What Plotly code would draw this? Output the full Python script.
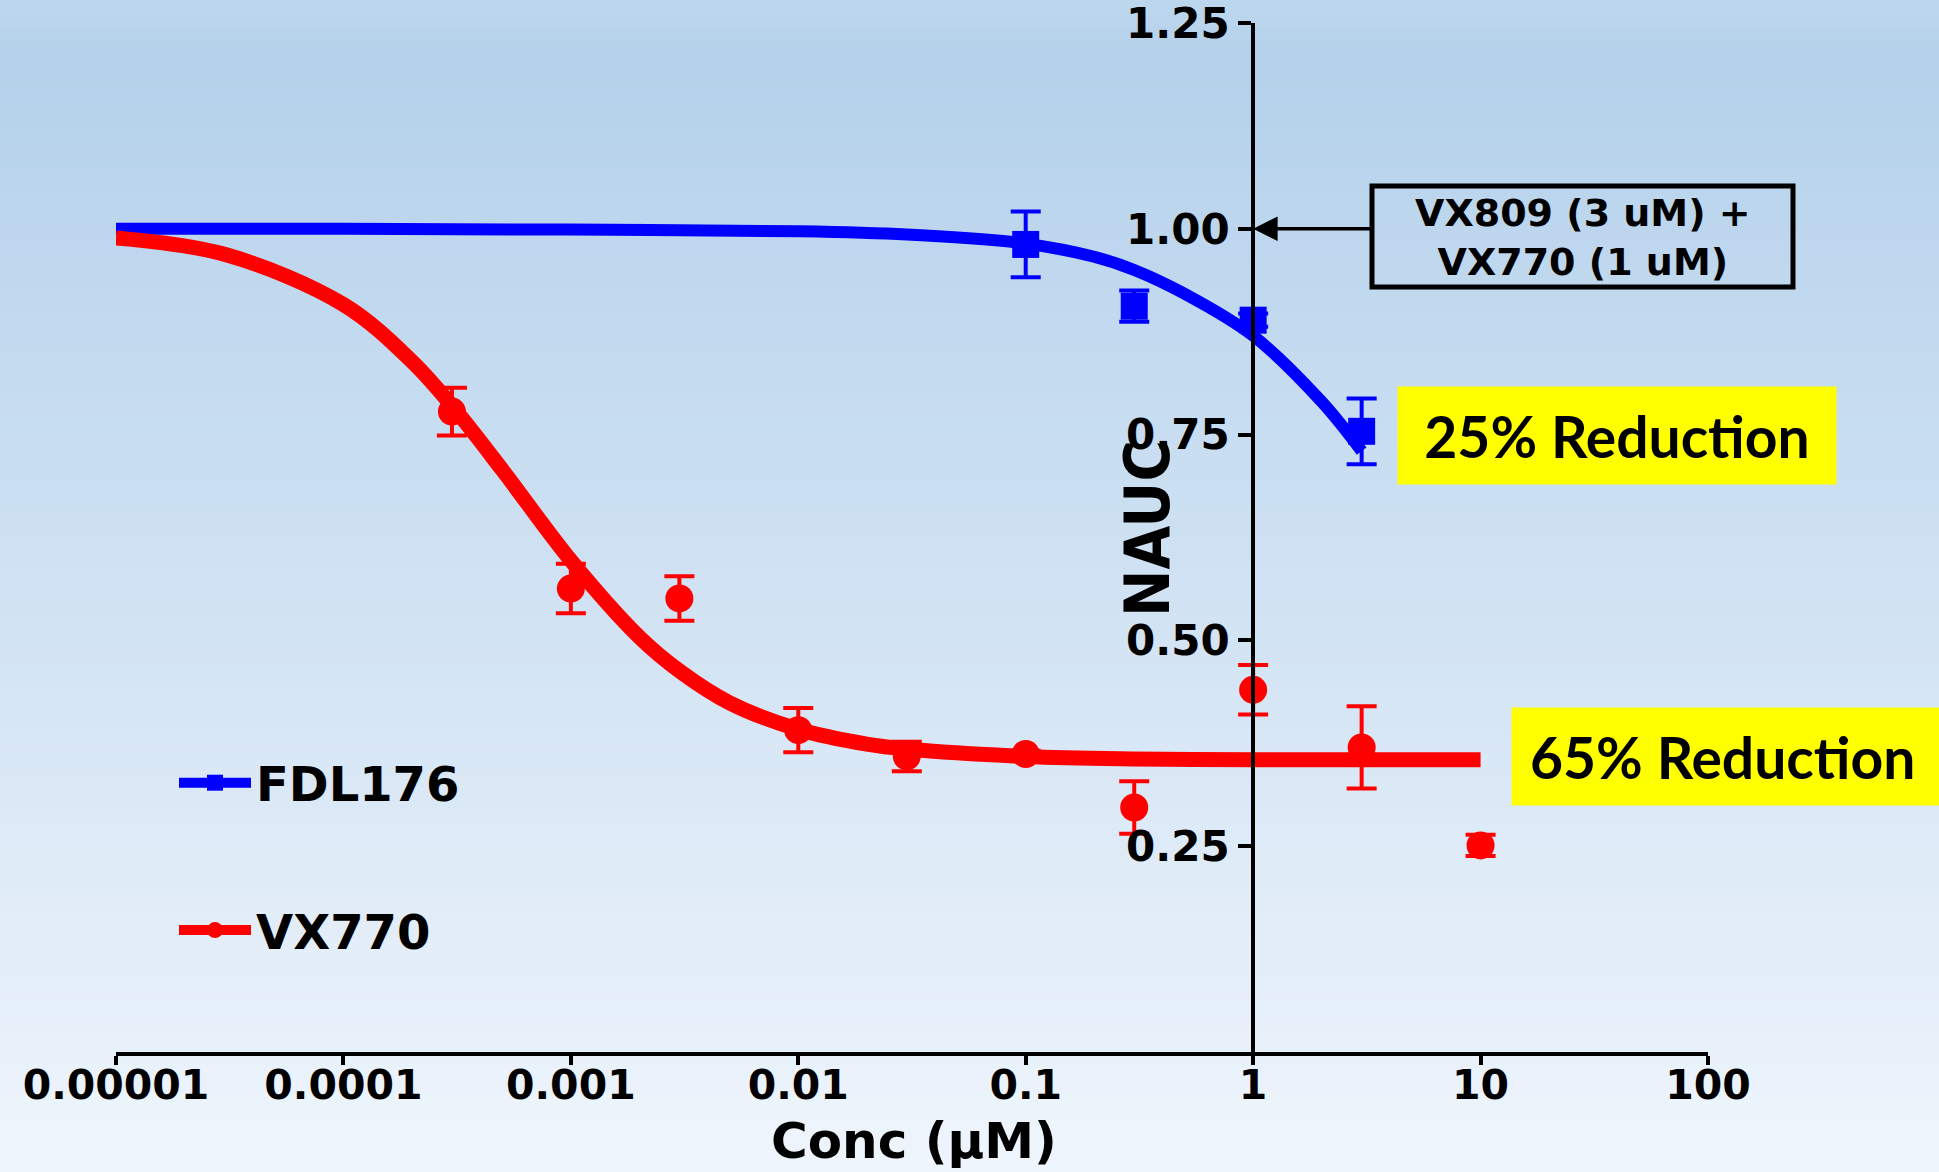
import plotly.graph_objects as go

# ---------------- data ----------------
conc_fdl = [0.1, 0.3, 1, 3]
nauc_fdl = [0.981, 0.906, 0.889, 0.754]
err_fdl = [0.040, 0.019, 0.008, 0.040]

conc_vx = [0.0003, 0.001, 0.003, 0.01, 0.03, 0.1, 0.3, 1, 3, 10]
nauc_vx = [0.778, 0.563, 0.551, 0.391, 0.359, 0.362, 0.297, 0.440, 0.370, 0.251]
err_vx = [0.029, 0.030, 0.027, 0.027, 0.018, 0.004, 0.032, 0.030, 0.050, 0.013]

# fitted curves as drawn
fit_conc_fdl = [1e-5, 1e-4, 1e-3, 1e-2, 3e-2, 0.1, 0.2, 0.3, 0.5, 1, 2, 3]
fit_nauc_fdl = [1.0, 1.0, 0.999, 0.997, 0.993, 0.982, 0.966, 0.950, 0.921, 0.870, 0.790, 0.730]

fit_conc_vx = [1e-5, 3e-5, 1e-4, 2e-4, 3e-4, 5e-4, 1e-3, 2e-3, 3e-3, 5e-3,
               1e-2, 2e-2, 3e-2, 0.1, 0.3, 1, 3, 10]
fit_nauc_vx = [0.989, 0.969, 0.908, 0.839, 0.785, 0.707, 0.597, 0.504, 0.463, 0.424,
               0.392, 0.374, 0.368, 0.359, 0.356, 0.355, 0.355, 0.355]

x_tickvals = [1e-5, 1e-4, 1e-3, 1e-2, 1e-1, 1, 10, 100]
x_ticktext = ["0.00001", "0.0001", "0.001", "0.01", "0.1", "1", "10", "100"]
y_tickvals = [0.25, 0.50, 0.75, 1.00, 1.25]
y_ticktext = ["0.25", "0.50", "0.75", "1.00", "1.25"]

series_names = ["FDL176", "VX770"]
box_text = "VX809 (3 uM) +<br>VX770 (1 uM)"
reduction_labels = ["25% Reduction", "65% Reduction"]
x_title = "Conc (μM)"
y_title = "NAUC"

# ---------------- layout geometry ----------------
W, H = 1939, 1172
ML, MR, MT, MB = 116, 231, 23, 120
PW, PH = W - ML - MR, H - MT - MB

def px(xp):
    return (xp - ML) / PW

def py(yp):
    return (H - MB - yp) / PH

BLUE = "#0000ff"
RED = "#ff0000"
BOLD = dict(family="DejaVu Sans", weight="bold", color="black")

fig = go.Figure()

# background gradient strips
def lerp(c1, c2, t):
    return tuple(round(a + (b - a) * t) for a, b in zip(c1, c2))

top0 = (189, 215, 237)
top1 = (180, 209, 235)
bot = (239, 245, 252)
shapes = []
n = 90
for i in range(n):
    y0p = H * i / n
    y1p = H * (i + 1) / n
    ym = (y0p + y1p) / 2
    if ym < 60:
        c = lerp(top0, top1, ym / 60)
    else:
        c = lerp(top1, bot, (ym - 60) / (H - 60))
    col = "rgb(%d,%d,%d)" % c
    shapes.append(dict(type="rect", xref="paper", yref="paper", layer="below",
                       x0=px(-5), x1=px(W + 5), y0=py(y1p + 1), y1=py(y0p),
                       fillcolor=col, line=dict(width=0)))

# treatment box outline
shapes.append(dict(type="rect", xref="paper", yref="paper", layer="above",
                   x0=px(1372), x1=px(1793), y0=py(287), y1=py(186),
                   fillcolor="rgba(0,0,0,0)", line=dict(color="black", width=5)))

# fitted curves
fig.add_trace(go.Scatter(x=fit_conc_fdl, y=fit_nauc_fdl, mode="lines",
                         line=dict(color=BLUE, width=12, shape="spline"),
                         showlegend=False, hoverinfo="skip"))
fig.add_trace(go.Scatter(x=fit_conc_vx, y=fit_nauc_vx, mode="lines",
                         line=dict(color=RED, width=15, shape="spline"),
                         showlegend=False, hoverinfo="skip"))

# data points with error bars
fig.add_trace(go.Scatter(x=conc_fdl, y=nauc_fdl, mode="markers",
                         marker=dict(symbol="square", size=27, color=BLUE),
                         error_y=dict(type="data", array=err_fdl, color=BLUE,
                                      thickness=4, width=15),
                         showlegend=False))
fig.add_trace(go.Scatter(x=conc_vx, y=nauc_vx, mode="markers",
                         marker=dict(symbol="circle", size=28, color=RED),
                         error_y=dict(type="data", array=err_vx, color=RED,
                                      thickness=4, width=15),
                         showlegend=False))

# legend entries
fig.add_trace(go.Scatter(x=[None], y=[None], mode="lines+markers", name=series_names[0],
                         legendgroup="a",
                         line=dict(color=BLUE, width=11),
                         marker=dict(symbol="square", size=16, color=BLUE)))
fig.add_trace(go.Scatter(x=[None], y=[None], mode="lines+markers", name=series_names[1],
                         legendgroup="b",
                         line=dict(color=RED, width=11),
                         marker=dict(symbol="circle", size=16, color=RED)))

annotations = [
    # axis titles
    dict(text=y_title, xref="paper", yref="paper", x=px(1147), y=py(529),
         showarrow=False, textangle=-90, xanchor="center", yanchor="middle",
         font=dict(family="Liberation Sans Narrow, DejaVu Sans Condensed", weight="bold",
                   size=63, color="black")),
    dict(text=x_title, xref="paper", yref="paper", x=px(914), y=py(1141),
         showarrow=False, xanchor="center", yanchor="middle",
         font=dict(BOLD, size=50)),
    # boxed treatment label
    dict(text=box_text, xref="paper", yref="paper", x=px(1583), y=py(237),
         xanchor="center", yanchor="middle", showarrow=False, align="center",
         font=dict(BOLD, size=38)),
    # arrow to 1.00
    dict(text="", x=0, y=1.0, xref="x", yref="y", showarrow=True,
         ax=119, ay=0, arrowhead=2, arrowsize=1.4, arrowwidth=3.5,
         arrowcolor="black", standoff=0),
    # yellow labels
    dict(text=reduction_labels[0], xref="paper", yref="paper", x=px(1397), y=py(386),
         xanchor="left", yanchor="top", showarrow=False, width=430, height=89,
         borderpad=4, bgcolor="#ffff00", align="center",
         font=dict(family="Lato", weight="bold", size=57, color="black")),
    dict(text=reduction_labels[1], xref="paper", yref="paper", x=px(1511), y=py(707),
         xanchor="left", yanchor="top", showarrow=False, width=460, height=61,
         borderpad=18, bgcolor="#ffff00", align="left",
         font=dict(family="Lato", weight="bold", size=57, color="black")),
]

fig.update_layout(
    width=W, height=H,
    margin=dict(l=ML, r=MR, t=MT, b=MB, autoexpand=False),
    paper_bgcolor="rgb(214,230,244)",
    plot_bgcolor="rgba(0,0,0,0)",
    shapes=shapes,
    annotations=annotations,
    showlegend=True,
    legend=dict(x=px(174), y=py(745), xanchor="left", yanchor="top",
                bgcolor="rgba(0,0,0,0)", font=dict(BOLD, size=48),
                traceorder="grouped", tracegroupgap=82, itemwidth=72),
    xaxis=dict(type="log", range=[-5, 2], showgrid=False, zeroline=False,
               showline=True, linecolor="black", linewidth=4,
               ticks="outside", ticklen=9, tickwidth=4, tickcolor="black",
               tickvals=x_tickvals, ticktext=x_ticktext,
               tickfont=dict(BOLD, size=41), ticklabelstandoff=-15),
    yaxis=dict(range=[0, 1.25], showgrid=False, zeroline=False,
               anchor="free", position=5 / 7,
               showline=True, linecolor="black", linewidth=4,
               ticks="outside", ticklen=13, tickwidth=4, tickcolor="black",
               tickvals=y_tickvals, ticktext=y_ticktext,
               ticklabeloverflow="allow",
               tickfont=dict(BOLD, size=42)),
)

fig.write_html("out.html")
